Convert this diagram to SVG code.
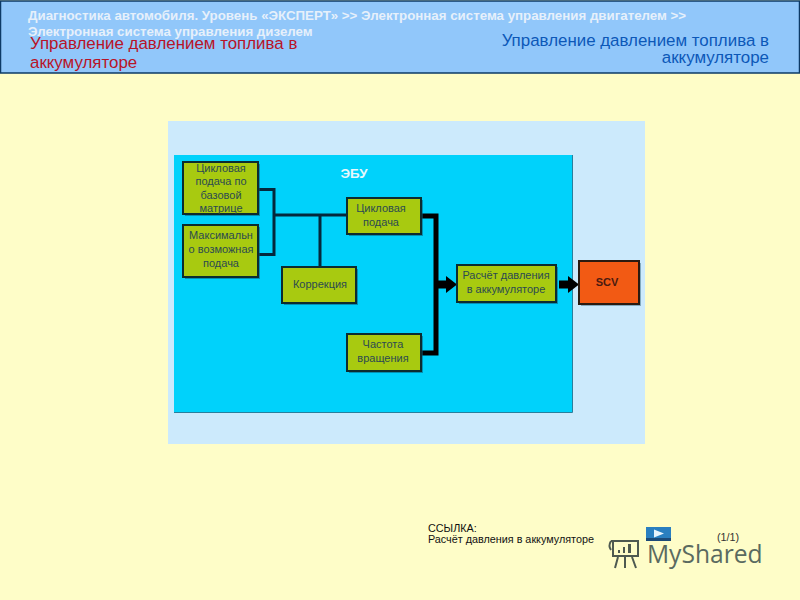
<svg xmlns="http://www.w3.org/2000/svg" width="800" height="600" viewBox="0 0 800 600">
<style>
text{font-family:"Liberation Sans",Arial,sans-serif}
.n{fill:#a8ca10;stroke:#0c2c30;stroke-width:2}
.sh{fill:#0a5a78;opacity:.55}
.t{font-size:11px;fill:#2c4a50;text-anchor:middle}
.w{fill:none;stroke:#04283c;stroke-width:3}
.k{fill:none;stroke:#000;stroke-width:5}
.a{fill:none;stroke:#000;stroke-width:8}
.h{font-size:13.3px;font-weight:bold;fill:#e6f0fb}
.r{font-size:16.9px;fill:#b81428}
.b{font-size:16.9px;fill:#0c58b8;text-anchor:end}
</style>
<defs>
<marker id="ah" markerUnits="userSpaceOnUse" markerWidth="11" markerHeight="17" refX="0" refY="8.5" orient="auto"><path d="M0 0L11 8.500L0 17Z" fill="#000"/></marker>
</defs>
<rect width="800" height="600" fill="#fefdc8"/>
<g id="header">
<rect x="0.500" y="1" width="799" height="72" fill="#91c7fa" stroke="#0d3a66" stroke-width="1.500"/>
<text class="h" x="28" y="20">Диагностика автомобиля. Уровень «ЭКСПЕРТ» &gt;&gt; Электронная система управления двигателем &gt;&gt;</text>
<text class="h" x="28" y="36">Электронная система управления дизелем</text>
<text class="r" x="30" y="49">Управление давлением топлива в</text>
<text class="r" x="30" y="68">аккумуляторе</text>
<text class="b" x="769" y="46">Управление давлением топлива в</text>
<text class="b" x="769" y="63">аккумуляторе</text>
</g>
<g id="panel"><rect x="168" y="121" width="477" height="323" fill="#cceafc"/></g>
<g id="ecu">
<rect x="174" y="155" width="398" height="257" fill="#00d2fb"/>
<path d="M174 412.500H572.500V155" fill="none" stroke="#2a7f9c" stroke-width="1"/>
<text x="354" y="178" font-size="13.400" font-weight="bold" fill="#e8f8fc" text-anchor="middle">ЭБУ</text>
</g>
<g id="connectors">
<path class="w" d="M258 189.500H274V254.500H258M274 215H347M320 215V267"/>
<path class="k" d="M421 216H436V353H421"/>
<path class="a" d="M436 284.500H446" marker-end="url(#ah)"/>
<path class="a" d="M559 284.500H568" marker-end="url(#ah)"/>
</g>
<g id="node-base">
<rect class="sh" x="185" y="164" width="75" height="52"/><rect class="n" x="183" y="162" width="75" height="52"/>
<text class="t" x="221" y="172">Цикловая</text><text class="t" x="221" y="185">подача по</text><text class="t" x="221" y="199">базовой</text><text class="t" x="221" y="212">матрице</text>
</g>
<g id="node-max">
<rect class="sh" x="185" y="227" width="75" height="52"/><rect class="n" x="183" y="225" width="75" height="52"/>
<text class="t" x="221" y="239">Максимальн</text><text class="t" x="221" y="253">о возможная</text><text class="t" x="221" y="267">подача</text>
</g>
<g id="node-correction">
<rect class="sh" x="284" y="269" width="74" height="36"/><rect class="n" x="282" y="267" width="74" height="36"/>
<text class="t" x="320" y="288">Коррекция</text>
</g>
<g id="node-cycle">
<rect class="sh" x="349" y="200" width="74" height="36"/><rect class="n" x="347" y="198" width="74" height="36"/>
<text class="t" x="381" y="212">Цикловая</text><text class="t" x="381" y="226">подача</text>
</g>
<g id="node-rpm">
<rect class="sh" x="349" y="336" width="74" height="37"/><rect class="n" x="347" y="334" width="74" height="37"/>
<text class="t" x="383" y="348">Частота</text><text class="t" x="383" y="362">вращения</text>
</g>
<g id="node-calc">
<rect class="sh" x="459" y="267" width="99" height="37"/><rect class="n" x="457" y="265" width="99" height="37"/>
<text class="t" x="506" y="279">Расчёт давления</text><text class="t" x="506" y="293">в аккумуляторе</text>
</g>
<g id="node-scv">
<rect x="581" y="263" width="60" height="43" fill="#3a6a80" opacity=".5"/><rect x="579" y="261" width="60" height="43" fill="#f25a14" stroke="#2a1a10" stroke-width="2"/>
<text x="607" y="286" font-size="11" fill="#4a1a10" text-anchor="middle" font-weight="bold">SCV</text>
</g>
<g id="reference">
<text x="428" y="532" font-size="10.800" fill="#111">ССЫЛКА:</text>
<text x="428" y="543" font-size="10.800" fill="#111">Расчёт давления в аккумуляторе</text>
<text x="717" y="541" font-size="10.800" fill="#333">(1/1)</text>
</g>
<g id="play">
<rect x="646" y="527" width="25" height="14" fill="#2a7fc0"/>
<rect x="646" y="538" width="25" height="3" fill="#1c4a78"/>
<path d="M654 529.500L664 533.500L654 537.500Z" fill="#e8f4fc"/>
</g>
<g id="watermark">
<g fill="none" stroke="#4e5a50" stroke-width="2">
<path d="M611 541H639M613 541V556H638V541M611 541Q608 546 611 550"/>
<path d="M618 557L615 568M625 557V568M632 557L636 568"/>
</g>
<path d="M618 553V550H620V553ZM623 553V547H625V553ZM628 553V544H631V553Z" fill="#4e5a50"/>
<text x="647" y="563" font-size="24.600" fill="#5a6a60" style="font-family:'Open Sans','Liberation Sans',sans-serif">MyShared</text>
</g>
</svg>
